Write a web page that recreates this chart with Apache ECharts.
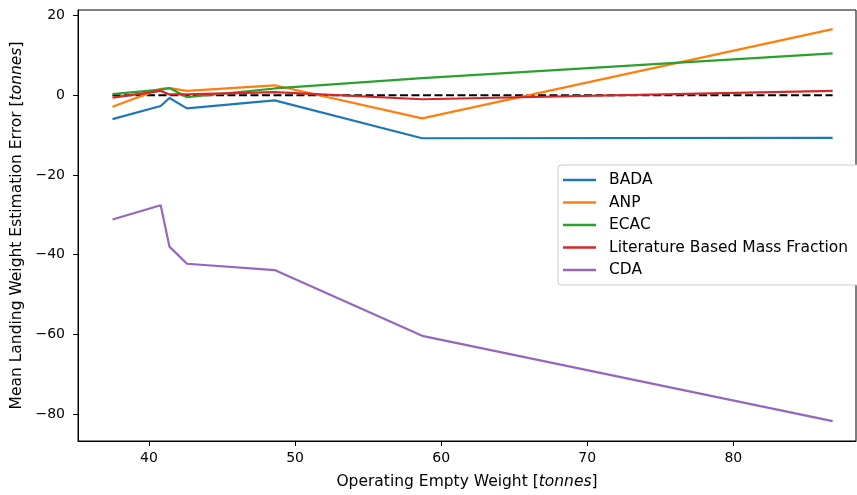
<!DOCTYPE html>
<html>
<head>
<meta charset="utf-8">
<script src="https://cdn.jsdelivr.net/npm/echarts@6/dist/echarts.min.js"></script>
<style>
  html, body { margin: 0; padding: 0; background: #fff; }
  #chart { width: 857px; height: 495px; }
</style>
</head>
<body>
<div id="chart"></div>
<script>
// Operating empty weight of each aircraft type [tonnes]
const oew = [37.5, 40.8, 41.4, 42.6, 48.6, 58.7, 86.8];

// Mean landing weight estimation error per method [tonnes]
const bada = [-6.0, -2.7, -0.7, -3.3, -1.3, -10.8, -10.7];
const anp = [-2.9, 1.6, 1.8, 1.1, 2.5, -5.8, 16.6];
const ecac = [0.3, 1.4, 1.8, -0.5, 1.7, 4.3, 10.5];
const lbmf = [-0.6, 1.1, 0.2, 0.2, 0.8, -1.0, 1.1];
const cda = [-31.2, -27.6, -38.0, -42.3, -43.9, -60.4, -81.8];

const seriesNames = ['BADA', 'ANP', 'ECAC', 'Literature Based Mass Fraction', 'CDA'];
const seriesValues = [bada, anp, ecac, lbmf, cda];
const colors = ['#1f77b4', '#ff7f0e', '#2ca02c', '#d62728', '#9467bd'];

const xTicks = [40, 50, 60, 70, 80];
const yTicks = [-80, -60, -40, -20, 0, 20];

const FONT = 'DejaVu Sans';
const TICK_SIZE = 14;
const LABEL_SIZE = 15.5;
const fmtMinus = v => String(v).replace('-', '\u2212');

const pairs = vals => oew.map((x, i) => [x, vals[i]]);

const lineSeries = seriesNames.map((name, k) => ({
  name,
  type: 'line',
  data: pairs(seriesValues[k]),
  symbol: 'none',
  z: 3 + k,
  lineStyle: { color: colors[k], width: 2.2 },
  itemStyle: { color: colors[k] },
  emphasis: { disabled: true }
}));

// zero-error reference line
const zeroLine = {
  name: 'zero',
  type: 'line',
  data: [[oew[0], 0], [oew[oew.length - 1], 0]],
  symbol: 'none',
  z: 2,
  lineStyle: { color: '#000', width: 2.2, type: [8, 3.5] },
  emphasis: { disabled: true }
};

const axisName = {
  color: '#000', fontFamily: FONT, fontSize: LABEL_SIZE,
  rich: { i: { fontStyle: 'italic', fontFamily: FONT, fontSize: LABEL_SIZE, color: '#000' } }
};

const chart = echarts.init(document.getElementById('chart'), null, { renderer: 'canvas' });
chart.setOption({
  animation: false,
  backgroundColor: '#fff',
  textStyle: { fontFamily: FONT },
  grid: {
    left: 78, right: 1, top: 10, bottom: 54,
    show: true, borderColor: '#000', borderWidth: 1, backgroundColor: 'transparent'
  },
  xAxis: {
    type: 'value',
    min: 35.14, max: 88.4,
    splitLine: { show: false },
    axisLine: { show: true, onZero: false, lineStyle: { color: '#000', width: 1 } },
    axisTick: { show: true, length: 5, inside: false, customValues: xTicks, lineStyle: { color: '#000' } },
    axisLabel: {
      customValues: xTicks, color: '#000', fontFamily: FONT, fontSize: TICK_SIZE, margin: 10,
      formatter: fmtMinus
    },
    name: 'Operating Empty Weight [{i|tonnes}]',
    nameLocation: 'middle',
    nameGap: 33,
    nameTextStyle: axisName
  },
  yAxis: {
    type: 'value',
    min: -86.8, max: 21.4,
    splitLine: { show: false },
    axisLine: { show: true, onZero: false, lineStyle: { color: '#000', width: 1 } },
    axisTick: { show: true, length: 5, inside: false, customValues: yTicks, lineStyle: { color: '#000' } },
    axisLabel: {
      customValues: yTicks, color: '#000', fontFamily: FONT, fontSize: TICK_SIZE, margin: 13,
      formatter: fmtMinus
    },
    name: 'Mean Landing Weight Estimation Error [{i|tonnes}]',
    nameLocation: 'middle',
    nameRotate: 90,
    nameGap: 52,
    nameTextStyle: axisName
  },
  legend: {
    data: seriesNames,
    orient: 'vertical',
    left: 558, top: 165,
    backgroundColor: '#fff',
    borderColor: '#ccc', borderWidth: 1, borderRadius: 3,
    padding: [7, 12, 7, 5],
    itemGap: 6.5,
    itemWidth: 33, itemHeight: 2.5,
    icon: 'rect',
    textStyle: { color: '#000', fontFamily: FONT, fontSize: LABEL_SIZE, padding: [0, 0, 0, 8] }
  },
  series: [zeroLine, ...lineSeries]
});
</script>
</body>
</html>
